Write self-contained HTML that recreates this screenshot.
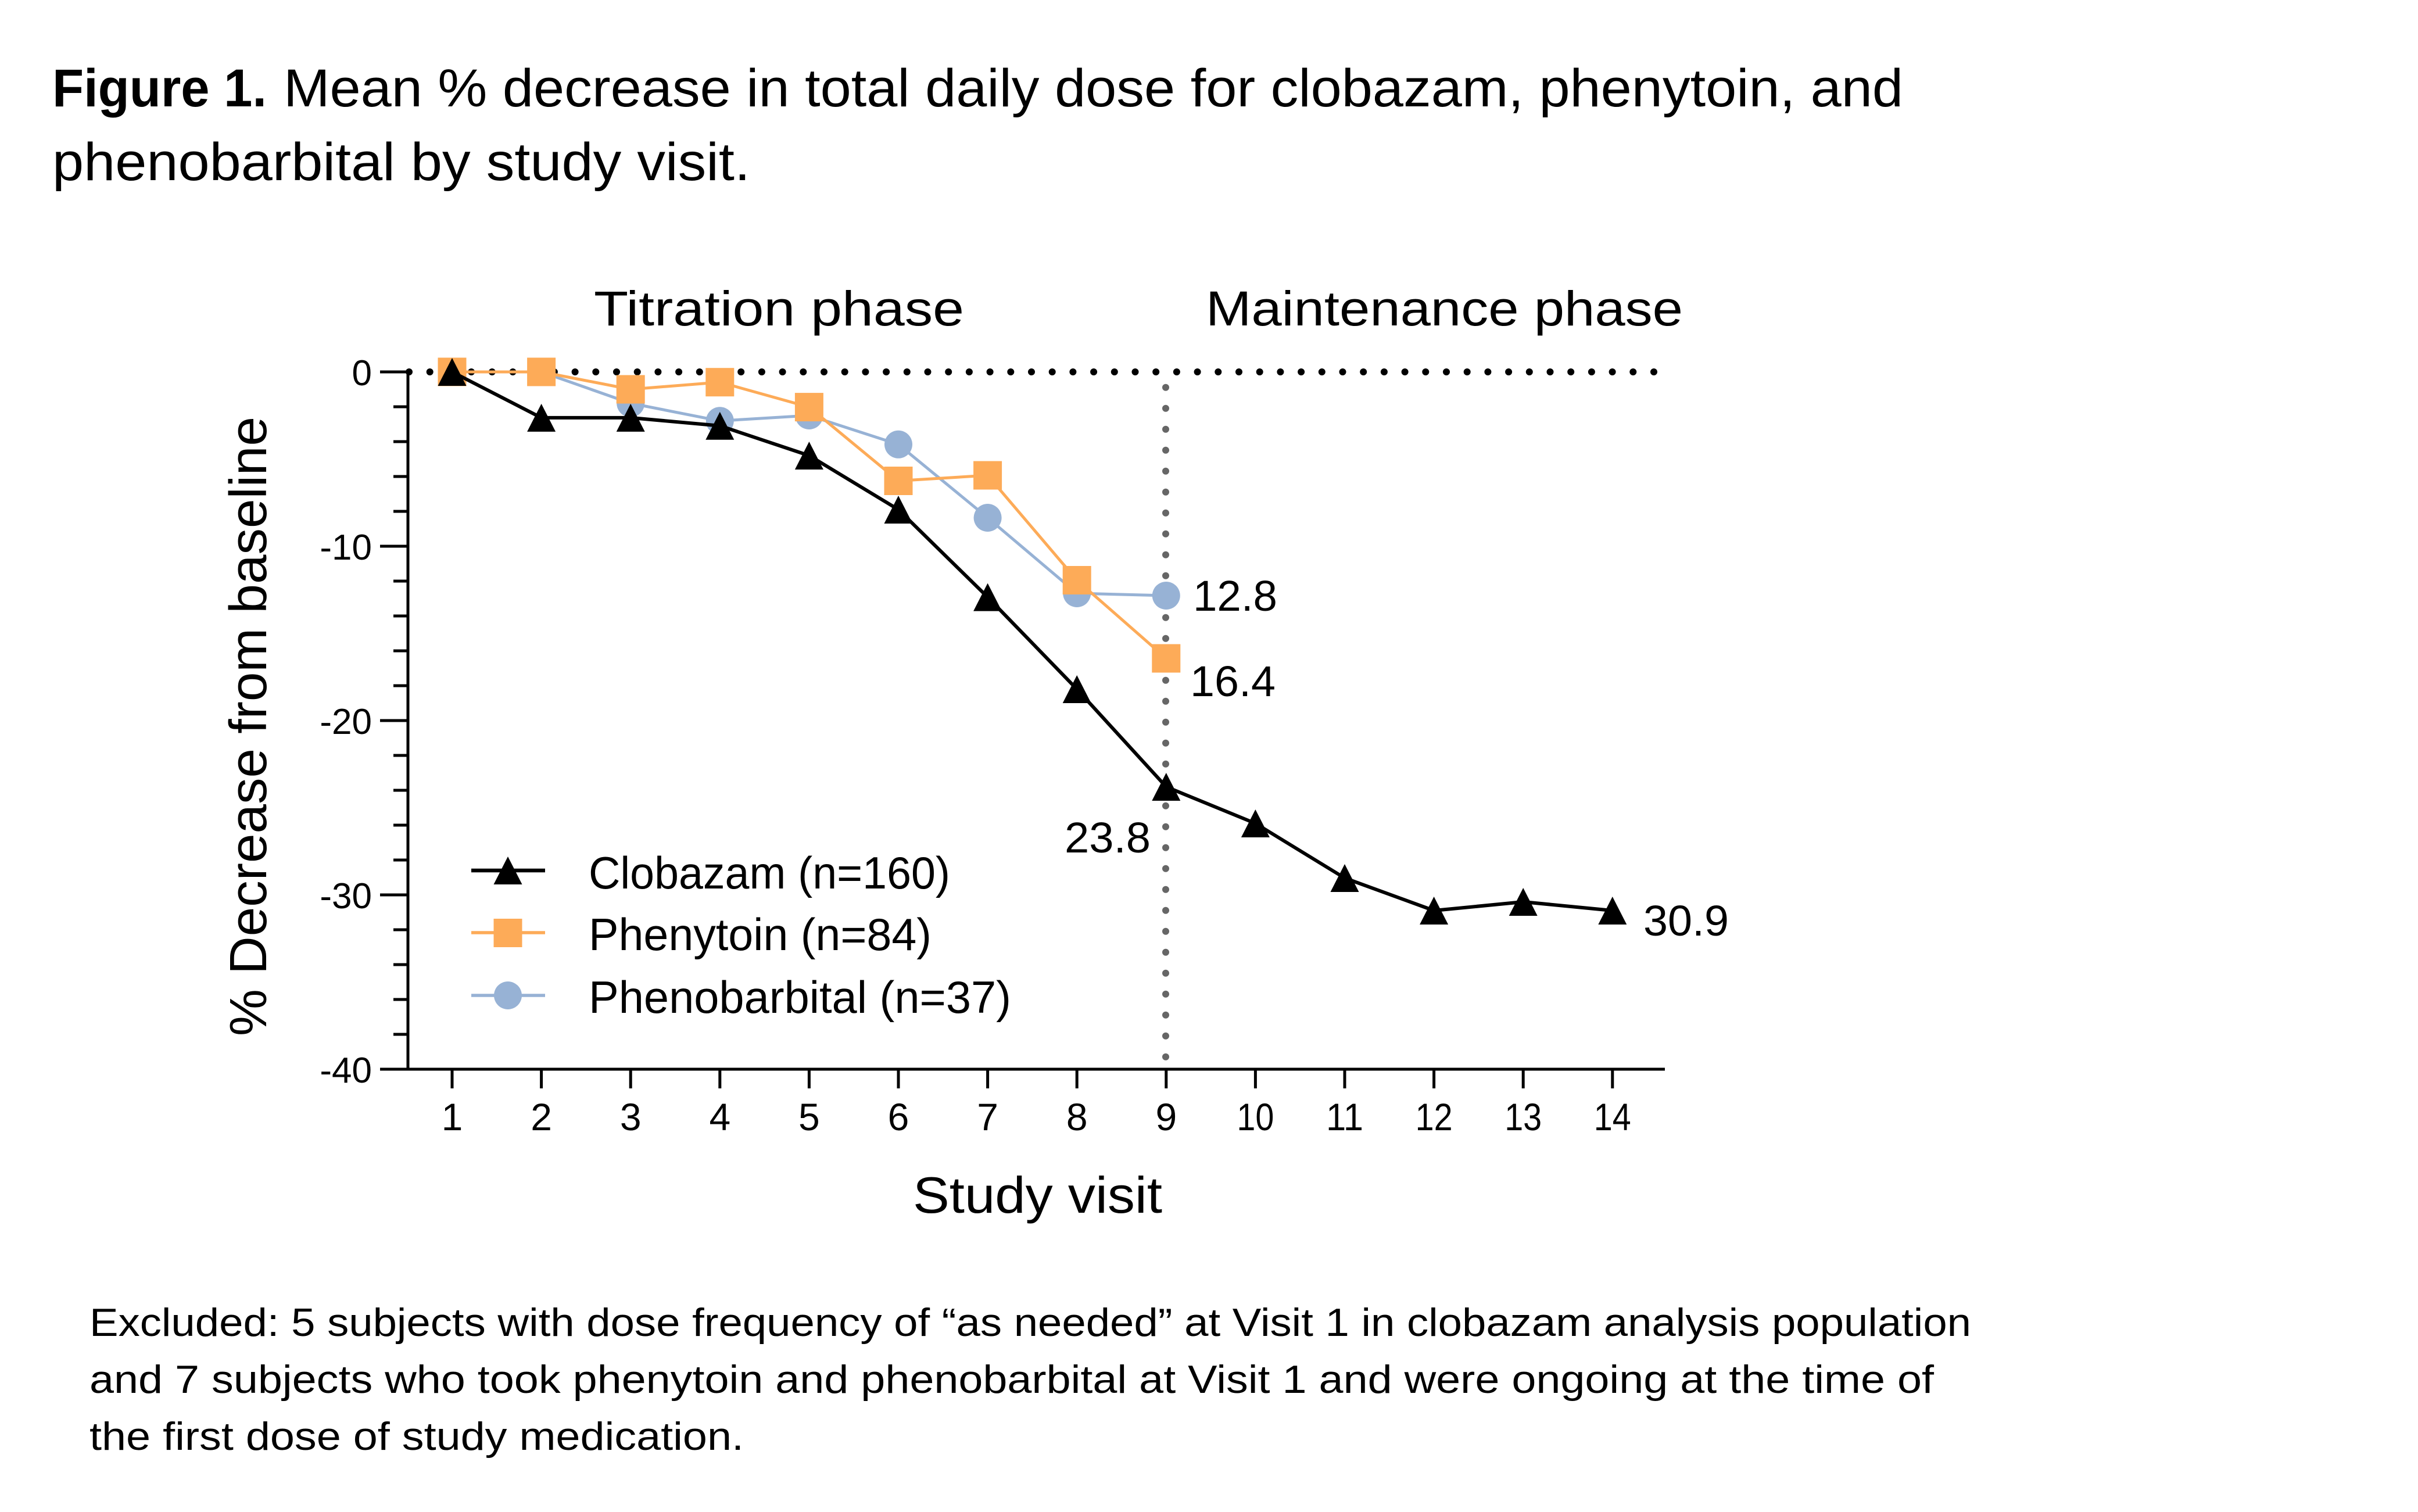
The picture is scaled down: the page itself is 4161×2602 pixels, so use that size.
<!DOCTYPE html>
<html>
<head>
<meta charset="utf-8">
<style>
  html, body { margin: 0; padding: 0; background: #ffffff; }
  svg { display: block; }
  text { font-family: "Liberation Sans", Arial, sans-serif; fill: #000; }
</style>
</head>
<body>
<svg width="4161" height="2602" viewBox="0 0 4161 2602" xmlns="http://www.w3.org/2000/svg">
  <rect x="0" y="0" width="4161" height="2602" fill="#ffffff"/>

  <!-- Figure title -->
  <text x="90" y="183" font-size="92" font-weight="bold" textLength="369" lengthAdjust="spacingAndGlyphs">Figure 1.</text>
  <text x="488" y="183" font-size="92" textLength="2787" lengthAdjust="spacingAndGlyphs">Mean % decrease in total daily dose for clobazam, phenytoin, and</text>
  <text x="90" y="310" font-size="92" textLength="1201" lengthAdjust="spacingAndGlyphs">phenobarbital by study visit.</text>

  <!-- Phase labels -->
  <text x="1022" y="560" font-size="84" textLength="637" lengthAdjust="spacingAndGlyphs">Titration phase</text>
  <text x="2075" y="560" font-size="84" textLength="821" lengthAdjust="spacingAndGlyphs">Maintenance phase</text>

  <!-- Zero dotted line -->
  <line x1="704" y1="640" x2="2850" y2="640" stroke="#000" stroke-width="12" stroke-linecap="round" stroke-dasharray="0 35.7"/>
  <!-- Vertical dotted line at visit 9 -->
  <line x1="2006" y1="666.7" x2="2006" y2="1830" stroke="#666" stroke-width="12" stroke-linecap="round" stroke-dasharray="0 36"/>

  <!-- Y axis -->
  <line x1="702" y1="637.5" x2="702" y2="1842.5" stroke="#000" stroke-width="5"/>
  <g stroke="#000" stroke-width="5">
    <line x1="654" y1="640" x2="702" y2="640"/>
    <line x1="677" y1="700" x2="702" y2="700"/>
    <line x1="677" y1="760" x2="702" y2="760"/>
    <line x1="677" y1="820" x2="702" y2="820"/>
    <line x1="677" y1="880" x2="702" y2="880"/>
    <line x1="654" y1="940" x2="702" y2="940"/>
    <line x1="677" y1="1000" x2="702" y2="1000"/>
    <line x1="677" y1="1060" x2="702" y2="1060"/>
    <line x1="677" y1="1120" x2="702" y2="1120"/>
    <line x1="677" y1="1180" x2="702" y2="1180"/>
    <line x1="654" y1="1240" x2="702" y2="1240"/>
    <line x1="677" y1="1300" x2="702" y2="1300"/>
    <line x1="677" y1="1360" x2="702" y2="1360"/>
    <line x1="677" y1="1420" x2="702" y2="1420"/>
    <line x1="677" y1="1480" x2="702" y2="1480"/>
    <line x1="654" y1="1540" x2="702" y2="1540"/>
    <line x1="677" y1="1600" x2="702" y2="1600"/>
    <line x1="677" y1="1660" x2="702" y2="1660"/>
    <line x1="677" y1="1720" x2="702" y2="1720"/>
    <line x1="677" y1="1780" x2="702" y2="1780"/>
    <line x1="654" y1="1840" x2="702" y2="1840"/>
  </g>
  <g font-size="62" text-anchor="end">
    <text x="640" y="663">0</text>
    <text x="640" y="963">-10</text>
    <text x="640" y="1263">-20</text>
    <text x="640" y="1563">-30</text>
    <text x="640" y="1863">-40</text>
  </g>

  <!-- X axis -->
  <line x1="700" y1="1840" x2="2865" y2="1840" stroke="#000" stroke-width="5"/>
  <g stroke="#000" stroke-width="5">
    <line x1="778" y1="1840" x2="778" y2="1873"/>
    <line x1="931.6" y1="1840" x2="931.6" y2="1873"/>
    <line x1="1085.2" y1="1840" x2="1085.2" y2="1873"/>
    <line x1="1238.8" y1="1840" x2="1238.8" y2="1873"/>
    <line x1="1392.4" y1="1840" x2="1392.4" y2="1873"/>
    <line x1="1546" y1="1840" x2="1546" y2="1873"/>
    <line x1="1699.6" y1="1840" x2="1699.6" y2="1873"/>
    <line x1="1853.2" y1="1840" x2="1853.2" y2="1873"/>
    <line x1="2006.8" y1="1840" x2="2006.8" y2="1873"/>
    <line x1="2160.4" y1="1840" x2="2160.4" y2="1873"/>
    <line x1="2314" y1="1840" x2="2314" y2="1873"/>
    <line x1="2467.6" y1="1840" x2="2467.6" y2="1873"/>
    <line x1="2621.2" y1="1840" x2="2621.2" y2="1873"/>
    <line x1="2774.8" y1="1840" x2="2774.8" y2="1873"/>
  </g>
  <g font-size="66" text-anchor="middle">
    <text x="778" y="1945">1</text>
    <text x="931.6" y="1945">2</text>
    <text x="1085.2" y="1945">3</text>
    <text x="1238.8" y="1945">4</text>
    <text x="1392.4" y="1945">5</text>
    <text x="1546" y="1945">6</text>
    <text x="1699.6" y="1945">7</text>
    <text x="1853.2" y="1945">8</text>
    <text x="2006.8" y="1945">9</text>
    <text x="2160.4" y="1945" textLength="64" lengthAdjust="spacingAndGlyphs">10</text>
    <text x="2314" y="1945" textLength="64" lengthAdjust="spacingAndGlyphs">11</text>
    <text x="2467.6" y="1945" textLength="64" lengthAdjust="spacingAndGlyphs">12</text>
    <text x="2621.2" y="1945" textLength="64" lengthAdjust="spacingAndGlyphs">13</text>
    <text x="2774.8" y="1945" textLength="64" lengthAdjust="spacingAndGlyphs">14</text>
  </g>

  <!-- Axis titles -->
  <text x="1571" y="2087" font-size="88" textLength="429" lengthAdjust="spacingAndGlyphs">Study visit</text>
  <text transform="translate(458,1250) rotate(-90)" x="0" y="0" font-size="90" text-anchor="middle" textLength="1066" lengthAdjust="spacingAndGlyphs">% Decrease from baseline</text>

  <!-- Phenobarbital series (blue circles) -->
  <polyline fill="none" stroke="#97B2D5" stroke-width="5" stroke-linejoin="round"
    points="778,640 931.6,640 1085.2,694 1238.8,724.3 1392.4,715 1546,764.8 1699.6,891 1853.2,1021 2006.8,1025"/>
  <g fill="#97B2D5">
    <circle cx="778" cy="640" r="24"/>
    <circle cx="931.6" cy="640" r="24"/>
    <circle cx="1085.2" cy="694" r="24"/>
    <circle cx="1238.8" cy="724.3" r="24"/>
    <circle cx="1392.4" cy="715" r="24"/>
    <circle cx="1546" cy="764.8" r="24"/>
    <circle cx="1699.6" cy="891" r="24"/>
    <circle cx="1853.2" cy="1021" r="24"/>
    <circle cx="2006.8" cy="1025" r="24"/>
  </g>

  <!-- Phenytoin series (orange squares) -->
  <polyline fill="none" stroke="#FDAB58" stroke-width="5" stroke-linejoin="round"
    points="778,640 931.6,640 1085.2,670 1238.8,657.7 1392.4,700.6 1546,827.5 1699.6,818 1853.2,998.5 2006.8,1133"/>
  <g fill="#FDAB58">
    <rect x="753.5" y="615.5" width="49" height="49"/>
    <rect x="907.1" y="615.5" width="49" height="49"/>
    <rect x="1060.7" y="645.5" width="49" height="49"/>
    <rect x="1214.3" y="633.2" width="49" height="49"/>
    <rect x="1367.9" y="676.1" width="49" height="49"/>
    <rect x="1521.5" y="803" width="49" height="49"/>
    <rect x="1675.1" y="793.5" width="49" height="49"/>
    <rect x="1828.7" y="974" width="49" height="49"/>
    <rect x="1982.3" y="1108.5" width="49" height="49"/>
  </g>

  <!-- Clobazam series (black triangles) -->
  <polyline fill="none" stroke="#000" stroke-width="6" stroke-linejoin="round"
    points="778,640 931.6,718.9 1085.2,718.9 1238.8,732.7 1392.4,784 1546,877 1699.6,1027.6 1853.2,1186 2006.8,1354 2160.4,1417 2314,1511 2467.6,1567 2621.2,1552 2774.8,1567"/>
  <g fill="#000">
    <polygon points="778,616 802.5,664 753.5,664"/>
    <polygon points="931.6,694.9 956.1,742.9 907.1,742.9"/>
    <polygon points="1085.2,694.9 1109.7,742.9 1060.7,742.9"/>
    <polygon points="1238.8,708.7 1263.3,756.7 1214.3,756.7"/>
    <polygon points="1392.4,760 1416.9,808 1367.9,808"/>
    <polygon points="1546,853 1570.5,901 1521.5,901"/>
    <polygon points="1699.6,1003.6 1724.1,1051.6 1675.1,1051.6"/>
    <polygon points="1853.2,1162 1877.7,1210 1828.7,1210"/>
    <polygon points="2006.8,1330 2031.3,1378 1982.3,1378"/>
    <polygon points="2160.4,1393 2184.9,1441 2135.9,1441"/>
    <polygon points="2314,1487 2338.5,1535 2289.5,1535"/>
    <polygon points="2467.6,1543 2492.1,1591 2443.1,1591"/>
    <polygon points="2621.2,1528 2645.7,1576 2596.7,1576"/>
    <polygon points="2774.8,1543 2799.3,1591 2750.3,1591"/>
  </g>

  <!-- Value labels -->
  <g font-size="74">
    <text x="2053" y="1051" textLength="145" lengthAdjust="spacingAndGlyphs">12.8</text>
    <text x="2048" y="1198" textLength="147" lengthAdjust="spacingAndGlyphs">16.4</text>
    <text x="1832" y="1467" textLength="148" lengthAdjust="spacingAndGlyphs">23.8</text>
    <text x="2828" y="1610" textLength="147" lengthAdjust="spacingAndGlyphs">30.9</text>
  </g>

  <!-- Legend -->
  <line x1="811" y1="1498" x2="938" y2="1498" stroke="#000" stroke-width="6.5"/>
  <polygon points="874,1474 898.5,1522 849.5,1522" fill="#000"/>
  <line x1="811" y1="1605" x2="938" y2="1605" stroke="#FDAB58" stroke-width="5.5"/>
  <rect x="849.5" y="1581" width="49" height="49" fill="#FDAB58"/>
  <line x1="811" y1="1713" x2="938" y2="1713" stroke="#97B2D5" stroke-width="5.5"/>
  <circle cx="874" cy="1713" r="24" fill="#97B2D5"/>
  <g font-size="78">
    <text x="1013" y="1529" textLength="622" lengthAdjust="spacingAndGlyphs">Clobazam (n=160)</text>
    <text x="1013" y="1635" textLength="590" lengthAdjust="spacingAndGlyphs">Phenytoin (n=84)</text>
    <text x="1013" y="1743" textLength="727" lengthAdjust="spacingAndGlyphs">Phenobarbital (n=37)</text>
  </g>

  <!-- Footnote -->
  <g font-size="68">
    <text x="154" y="2299" textLength="3238" lengthAdjust="spacingAndGlyphs">Excluded: 5 subjects with dose frequency of “as needed” at Visit 1 in clobazam analysis population</text>
    <text x="154" y="2397" textLength="3174" lengthAdjust="spacingAndGlyphs">and 7 subjects who took phenytoin and phenobarbital at Visit 1 and were ongoing at the time of</text>
    <text x="154" y="2495" textLength="1126" lengthAdjust="spacingAndGlyphs">the first dose of study medication.</text>
  </g>
</svg>
</body>
</html>
